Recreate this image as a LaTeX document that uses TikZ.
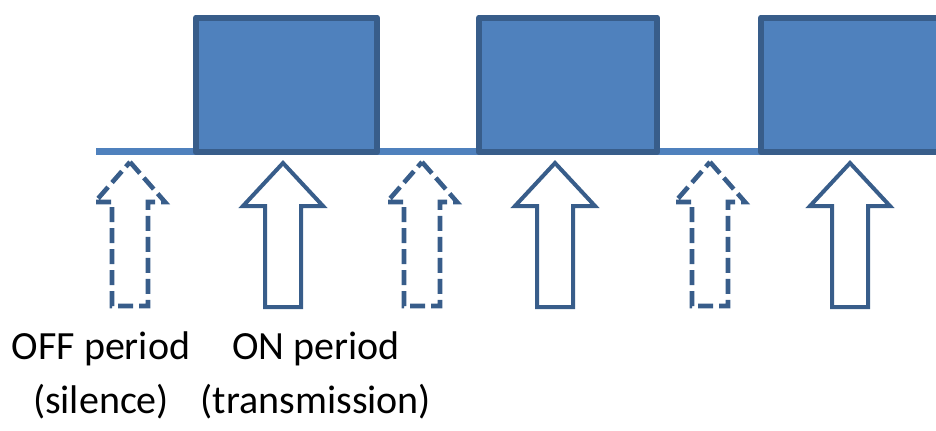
\documentclass[tikz,border=0pt]{standalone}
\usepackage{fontspec}
\setmainfont{Carlito}
\definecolor{boxfill}{HTML}{4F81BD}
\definecolor{boxline}{HTML}{385D8A}
\begin{document}
\begin{tikzpicture}[x=0.5pt,y=-0.5pt,
  onbox/.style={fill=boxfill,draw=boxline,line width=3pt,line join=round},
  baseline/.style={draw=boxfill,line width=3.3pt},
  onarrow/.style={draw=boxline,fill=white,line width=2pt,line join=miter},
  offarrow/.style={draw=boxline,fill=white,line width=2.3pt,dash pattern=on 7.5pt off 3pt},
  lbl/.style={font=\fontsize{20pt}{27pt}\selectfont,align=center,text=black,inner sep=0pt}]
\useasboundingbox (0,0) rectangle (936,430);
\begin{scope}
\clip (0,0) rectangle (936,430);
% baseline
\coordinate (L0) at (96,151.5);
\coordinate (L1) at (940,151.5);
\draw[baseline] (L0) -- (L1);
% ON boxes
\draw[onbox] (196,17.5) rectangle (377,152);
\draw[onbox] (479,17.5) rectangle (657,152);
\draw[onbox] (761,17.5) rectangle (960,152);
\end{scope}
% ON arrows
\foreach \c in {283,555,850}{
  \draw[onarrow] (\c,163) -- (\c+40,206) -- (\c+18,206) -- (\c+18,307)
     -- (\c-18,307) -- (\c-18,206) -- (\c-40,206) -- cycle;
}
% OFF arrows
\foreach \c in {130,422,710}{
  \draw[offarrow] (\c,162) -- (\c+35,202) -- (\c+18,202) -- (\c+18,306)
     -- (\c-18,306) -- (\c-18,202) -- (\c-35,202) -- cycle;
}
% labels
\node[lbl,anchor=base] (offlbl) at (101,413) {OFF period\\(silence)};
\node[lbl,anchor=base] (onlbl) at (316,413) {ON period\\(transmission)};
\end{tikzpicture}
\end{document}
